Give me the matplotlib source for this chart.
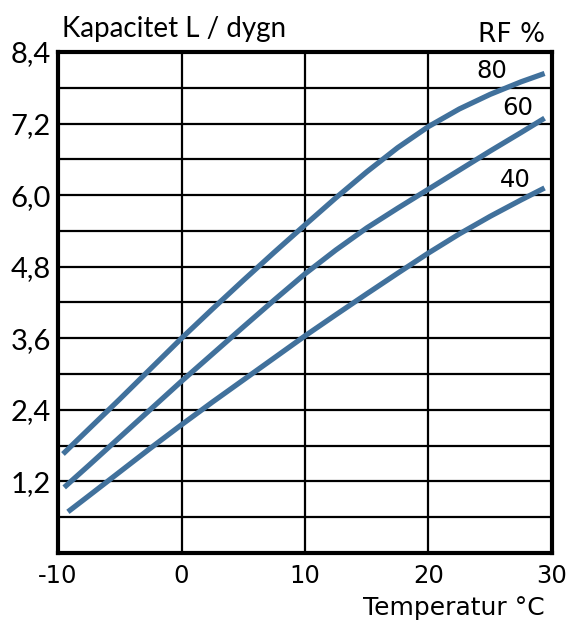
import numpy as np
import matplotlib.pyplot as plt

# Kapacitet (L/dygn) mot temperatur
t80 = [-9.6, -7.5, -5, -2.5, 0, 2.5, 5, 7.5, 10, 12.5, 15, 17.5, 20, 22.5, 25, 27.5, 29.4]
k80 = [1.66, 2.08, 2.58, 3.09, 3.6, 4.09, 4.57, 5.04, 5.5, 5.955, 6.39, 6.795, 7.15,
       7.445, 7.69, 7.9, 8.04]

t60 = [-9.5, -7.5, -5, -2.5, 0, 2.5, 5, 7.5, 10, 12.5, 15, 17.5, 20, 22.5, 25, 27.5, 29.4]
k60 = [1.1, 1.47, 1.94, 2.41, 2.88, 3.335, 3.79, 4.24, 4.68, 5.08, 5.45, 5.78, 6.1,
       6.42, 6.74, 7.05, 7.29]

t40 = [-9.2, -7.5, -5, -2.5, 0, 2.5, 5, 7.5, 10, 12.5, 15, 17.5, 20, 22.5, 25, 27.5, 29.4]
k40 = [0.69, 0.96, 1.36, 1.76, 2.15, 2.53, 2.9, 3.27, 3.64, 3.995, 4.345, 4.69, 5.03,
       5.35, 5.645, 5.92, 6.12]

rf_labels = ["80", "60", "40"]
xticks = [-10, 0, 10, 20, 30]
yticks = [1.2, 2.4, 3.6, 4.8, 6.0, 7.2, 8.4]

blue = "#41719c"
calibri_like = ["Lato", "DejaVu Sans"]
arial_like = ["DejaVu Sans"]

fig = plt.figure(figsize=(5.7, 6.21), dpi=100)
ax = fig.add_axes([0.1018, 0.1095, 0.8666, 0.8068])

ax.set_xlim(-10, 30)
ax.set_ylim(0, 8.4)

# rutnät
for x in xticks[1:-1]:
    ax.axvline(x, color="black", lw=1.6, zorder=1)
for y in np.arange(0.6, 8.4, 0.6):
    ax.axhline(y, color="black", lw=1.6, zorder=1)

for t, k in [(t80, k80), (t60, k60), (t40, k40)]:
    ax.plot(t, k, color=blue, lw=3.8, solid_capstyle="butt",
            solid_joinstyle="round", zorder=3)

for s in ax.spines.values():
    s.set_linewidth(3.0)

ax.set_xticks(xticks)
ax.set_xticklabels([str(x) for x in xticks], fontsize=17.5, family=arial_like)
ax.set_yticks(yticks)
ax.set_yticklabels([("%.1f" % y).replace(".", ",") for y in yticks],
                   fontsize=21, family=calibri_like)
ax.tick_params(axis="both", length=0)
ax.tick_params(axis="x", pad=8)
ax.tick_params(axis="y", pad=5)

# kurvetiketter
ax.text(25.1, 7.96, rf_labels[0], fontsize=17.5, family=arial_like, ha="center", va="baseline")
ax.text(27.2, 7.34, rf_labels[1], fontsize=17.5, family=arial_like, ha="center", va="baseline")
ax.text(27.0, 6.14, rf_labels[2], fontsize=17.5, family=arial_like, ha="center", va="baseline")

fig.text(62 / 570, 1 - 37 / 621, "Kapacitet L / dygn", fontsize=20,
         family=calibri_like, ha="left", va="baseline")
fig.text(545 / 570, 1 - 42 / 621, "RF %", fontsize=19,
         family=arial_like, ha="right", va="baseline")
fig.text(545 / 570, 1 - 615 / 621, "Temperatur °C", fontsize=18,
         family=arial_like, ha="right", va="baseline")

fig.savefig("out.png", dpi=100)
